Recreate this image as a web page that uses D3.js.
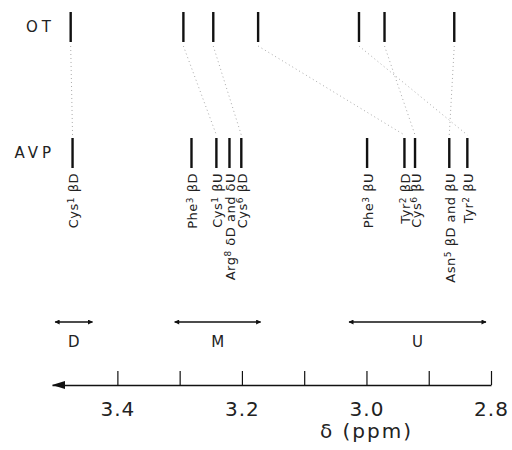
<!DOCTYPE html>
<style>
    body {
        margin: 0;
        background: #fff;
        font-family: 'DejaVu Sans', sans-serif;
    }

    .axis .domain {
        stroke-width: 1.4;
    }
</style>
<svg width="512" height="450"></svg>
<script src="https://d3js.org/d3.v7.min.js"></script>
<script>
    // chemical shifts (ppm)
    var rows = ["OT", "AVP"];
    var otShifts = [3.475, 3.294, 3.246, 3.174, 3.012, 2.971, 2.859];
    var avpShifts = [3.472, 3.281, 3.241, 3.220, 3.201, 2.999, 2.939, 2.922, 2.867, 2.838];
    var avpLabels = [
        {res: "Cys", num: "1", proton: "βD"},
        {res: "Phe", num: "3", proton: "βD"},
        {res: "Cys", num: "1", proton: "βU"},
        {res: "Arg", num: "8", proton: "δD and δU"},
        {res: "Cys", num: "6", proton: "βD"},
        {res: "Phe", num: "3", proton: "βU"},
        {res: "Tyr", num: "2", proton: "βD"},
        {res: "Cys", num: "6", proton: "βU"},
        {res: "Asn", num: "5", proton: "βD and βU"},
        {res: "Tyr", num: "2", proton: "βU"}
    ];
    // OT index -> AVP index
    var links = [[0, 0], [1, 2], [2, 4], [3, 6], [4, 9], [5, 7], [6, 8]];
    var rangeNames = ["D", "M", "U"];
    var rangeFrom = [3.50, 3.308, 3.028];
    var rangeTo = [3.44, 3.170, 2.808];
    var tickValues = [3.4, 3.3, 3.2, 3.1, 3.0, 2.9, 2.8];
    var tickLabels = [3.4, 3.2, 3.0, 2.8];

    var svg = d3.select("svg");

    // ppm runs right to left
    var x = d3.scaleLinear()
        .domain([3.505, 2.8])
        .range([52, 491]);

    var y = d3.scalePoint()
        .domain(rows)
        .range([27, 153]);

    var lineHalf = 15;

    // row names
    svg.selectAll(".rowname")
        .data(rows)
        .enter().append("text")
        .attr("class", "rowname")
        .attr("x", 55)
        .attr("y", function (d) { return y(d); })
        .attr("dy", "0.36em")
        .attr("text-anchor", "end")
        .attr("font-size", 15)
        .attr("letter-spacing", 4)
        .attr("fill", "#222")
        .text(function (d) { return d; });

    // dotted correlations
    svg.append("g")
        .selectAll("line")
        .data(links)
        .enter().append("line")
        .attr("x1", function (d) { return x(otShifts[d[0]]); })
        .attr("y1", y("OT") + lineHalf + 4)
        .attr("x2", function (d) { return x(avpShifts[d[1]]); })
        .attr("y2", y("AVP") - lineHalf - 3)
        .attr("stroke", "#aaa")
        .attr("stroke-width", 1)
        .attr("stroke-dasharray", "1,3");

    // resonance lines
    function drawRow(name, shifts) {
        svg.append("g")
            .selectAll("line")
            .data(shifts)
            .enter().append("line")
            .attr("x1", function (d) { return x(d); })
            .attr("x2", function (d) { return x(d); })
            .attr("y1", y(name) - lineHalf)
            .attr("y2", y(name) + lineHalf)
            .attr("stroke", "#111")
            .attr("stroke-width", 2.4);
    }
    drawRow("OT", otShifts);
    drawRow("AVP", avpShifts);

    // AVP assignments, rotated
    var lab = svg.append("g")
        .selectAll("text")
        .data(avpLabels)
        .enter().append("text")
        .attr("transform", function (d, i) {
            return "translate(" + (x(avpShifts[i]) + 5.5) + ",173) rotate(-90)";
        })
        .attr("text-anchor", "end")
        .attr("font-size", 13)
        .attr("letter-spacing", 0.5)
        .attr("fill", "#222");

    lab.append("tspan").text(function (d) { return d.res; });
    lab.append("tspan").attr("dy", -4).attr("font-size", 9).text(function (d) { return d.num; });
    lab.append("tspan").attr("dy", 4).text(function (d) { return "\u00a0" + d.proton; });

    // spectral regions
    var defs = svg.append("defs");
    defs.append("marker")
        .attr("id", "head")
        .attr("viewBox", "0 0 10 10")
        .attr("refX", 9)
        .attr("refY", 5)
        .attr("markerWidth", 7)
        .attr("markerHeight", 5)
        .attr("markerUnits", "userSpaceOnUse")
        .attr("orient", "auto-start-reverse")
        .append("path")
        .attr("d", "M0,0L10,5L0,10z")
        .attr("fill", "#111");

    var reg = svg.append("g")
        .selectAll("g")
        .data(rangeNames)
        .enter().append("g");

    reg.append("line")
        .attr("x1", function (d, i) { return x(rangeFrom[i]); })
        .attr("x2", function (d, i) { return x(rangeTo[i]); })
        .attr("y1", 322)
        .attr("y2", 322)
        .attr("stroke", "#111")
        .attr("stroke-width", 1.3)
        .attr("marker-start", "url(#head)")
        .attr("marker-end", "url(#head)");

    reg.append("text")
        .attr("x", function (d, i) { return x((rangeFrom[i] + rangeTo[i]) / 2); })
        .attr("y", 347)
        .attr("text-anchor", "middle")
        .attr("font-size", 15)
        .attr("fill", "#222")
        .text(function (d) { return d; });

    // ppm axis, ticks pointing up
    var axis = svg.append("g")
        .attr("class", "axis")
        .attr("transform", "translate(0,385)")
        .call(d3.axisBottom(x)
            .tickValues(tickValues)
            .tickSizeInner(-14)
            .tickSizeOuter(0)
            .tickPadding(17)
            .tickFormat(function (d) {
                return tickLabels.indexOf(d) >= 0 ? d3.format(".1f")(d) : "";
            }));

    axis.selectAll("line").attr("stroke", "#111").attr("stroke-width", 1.2);
    axis.select(".domain").attr("stroke", "#111");
    axis.selectAll("text")
        .attr("font-family", "'DejaVu Sans', sans-serif")
        .attr("font-size", 20)
        .attr("letter-spacing", 1)
        .attr("fill", "#222");

    // left arrowhead of the axis
    axis.append("path")
        .attr("d", "M" + x(3.505) + ",0l13,-4l0,8z")
        .attr("fill", "#111");

    svg.append("text")
        .attr("x", x(3.0))
        .attr("y", 438)
        .attr("text-anchor", "middle")
        .attr("font-size", 20)
        .attr("letter-spacing", 2)
        .attr("fill", "#222")
        .text("δ (ppm)");
</script>
